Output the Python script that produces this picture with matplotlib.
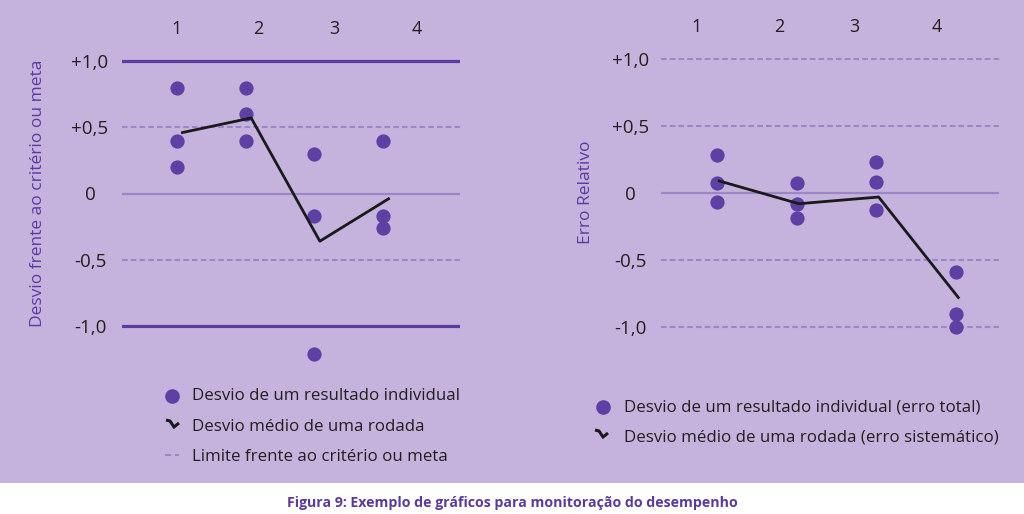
import matplotlib
matplotlib.use("Agg")
import matplotlib.pyplot as plt
from matplotlib.lines import Line2D
from matplotlib.patches import Rectangle

plt.rcParams['font.family'] = ['Open Sans', 'DejaVu Sans']

# ---------------- data ----------------
rounds = ["1", "2", "3", "4"]
ytick_vals = [1.0, 0.5, 0.0, -0.5, -1.0]
ytick_labels = ["+1,0", "+0,5", "0", "-0,5", "-1,0"]

# left chart: deviation vs criterion
left_points = [
    [0.8, 0.4, 0.2],
    [0.8, 0.6, 0.4],
    [0.3, -0.17, -1.21],
    [0.4, -0.17, -0.26],
]
left_means = [0.46, 0.57, -0.36, -0.04]
left_limits_solid = [1.0, -1.0]
left_limits_dashed = [0.5, -0.5]

# right chart: relative error
right_points = [
    [0.28, 0.075, -0.07],
    [0.075, -0.08, -0.19],
    [0.23, 0.08, -0.13],
    [-0.59, -0.90, -1.0],
]
right_means = [0.09, -0.08, -0.03, -0.78]
right_limits_dashed = [1.0, 0.5, -0.5, -1.0]

left_ylabel = "Desvio frente ao critério ou meta"
right_ylabel = "Erro Relativo"
left_legend = ["Desvio de um resultado individual",
               "Desvio médio de uma rodada",
               "Limite frente ao critério ou meta"]
right_legend = ["Desvio de um resultado individual (erro total)",
                "Desvio médio de uma rodada (erro sistemático)"]
caption = "Figura 9: Exemplo de gráficos para monitoração do desempenho"

# ---------------- style ----------------
BG = "#C5B3DD"
DOT = "#5E3FA3"
DARK = "#5A3BA2"
LIGHT = "#9C86C6"
TXT = "#231f20"
DASH = (0, (2.7, 1.5))

W, H = 1024, 514
fig = plt.figure(figsize=(W / 100, H / 100), dpi=100)
fig.patch.set_facecolor("white")
fig.add_artist(Rectangle((0, (H - 483) / H), 1, 483 / H, transform=fig.transFigure,
                         facecolor=BG, edgecolor="none", zorder=-10))


def px_axes(x0, x1, ytop, ybot):
    return fig.add_axes([x0 / W, (H - ybot) / H, (x1 - x0) / W, (ybot - ytop) / H])


def setup(ax, xlim, label_pos, tick_pad):
    ax.set_facecolor("none")
    for s in ax.spines.values():
        s.set_visible(False)
    ax.set_xlim(*xlim)
    ax.set_ylim(-1.3, 1.1)
    ax.set_yticks(ytick_vals)
    ax.set_yticklabels(ytick_labels, fontsize=13.5, color=TXT)
    for t in ax.get_yticklabels():
        t.set_horizontalalignment("center")
    ax.tick_params(axis="y", length=0, pad=tick_pad)
    ax.xaxis.tick_top()
    ax.set_xticks(label_pos)
    ax.set_xticklabels(rounds, fontsize=13, color=TXT)
    ax.tick_params(axis="x", length=0, pad=7)


xs = [1, 2, 3, 4]

# left axes: y=+1 at px 61, -1 at 326 -> ylim(-1.3,1.1)
yL0 = 61 - 0.1 * 132.5
yL1 = 326 + 0.3 * 132.5
axL = px_axes(122, 460, yL0, yL1)
setup(axL, (0.2, 5.12), [0.99, 2.18, 3.29, 4.49], 23)
axL.axhline(0, color=LIGHT, lw=1.6, zorder=1)
for v in left_limits_solid:
    axL.axhline(v, color=DARK, lw=2.3, zorder=1)
for v in left_limits_dashed:
    axL.axhline(v, color=LIGHT, lw=1.5, ls=DASH, zorder=1)
for x, pts in zip(xs, left_points):
    axL.scatter([x] * len(pts), pts, s=105, color=DOT, zorder=3, linewidths=0)
axL.plot([x + 0.08 for x in xs], left_means, color="#1a1a1a", lw=2.0, zorder=4)
axL.set_ylabel(left_ylabel, color=DARK, fontsize=12.5)
axL.yaxis.set_label_coords(-(122 - 46) / 338, (yL1 - 193) / (yL1 - yL0))

# right axes: y=+1 at px 59, -1 at 327
yR0 = 59 - 0.1 * 134
yR1 = 327 + 0.3 * 134
axR = px_axes(661, 999, yR0, yR1)
setup(axR, (0.3, 4.54), [0.75, 1.78, 2.73, 3.76], 22)
axR.axhline(0, color=LIGHT, lw=1.6, zorder=1)
for v in right_limits_dashed:
    axR.axhline(v, color=LIGHT, lw=1.5, ls=DASH, zorder=1)
for x, pts in zip(xs, right_points):
    axR.scatter([x] * len(pts), pts, s=105, color=DOT, zorder=3, linewidths=0)
axR.plot([x + 0.03 for x in xs], right_means, color="#1a1a1a", lw=2.0, zorder=4)
axR.set_ylabel(right_ylabel, color=DARK, fontsize=12.5)
axR.yaxis.set_label_coords(-(661 - 594) / 338, (yR1 - 192) / (yR1 - yR0))


# ---------------- legends (manual) ----------------
def fx(x):
    return x / W


def fy(y):
    return 1 - y / H


def dot_sym(x, y):
    fig.add_artist(Line2D([fx(x)], [fy(y)], marker="o", markersize=9.5, color=DOT,
                          transform=fig.transFigure, linestyle="none"))


def squiggle(x, y):
    fig.add_artist(Line2D([fx(x), fx(x + 4), fx(x + 8), fx(x + 13)],
                          [fy(y), fy(y + 1), fy(y + 7), fy(y + 3)],
                          color="#1a1a1a", lw=2.2, transform=fig.transFigure,
                          solid_capstyle="butt", solid_joinstyle="miter"))


def dashes(x, y):
    fig.add_artist(Line2D([fx(x), fx(x + 14)], [fy(y), fy(y)], color=LIGHT, lw=1.5,
                          ls=(0, (3, 1.8)), transform=fig.transFigure))


lrows = [396, 427, 457]
dot_sym(172, lrows[0])
squiggle(166, 420)
dashes(165, 455)
for t, y in zip(left_legend, lrows):
    fig.text(fx(192), fy(y), t, fontsize=12.2, color=TXT, va="center", ha="left")

rrows = [407, 438]
dot_sym(603, rrows[0])
squiggle(595, 430)
for t, y in zip(right_legend, rrows):
    fig.text(fx(624), fy(y), t, fontsize=12.2, color=TXT, va="center", ha="left")

fig.text(0.5, fy(503), caption, fontsize=10.2, fontweight="bold", color="#5B3A9C",
         ha="center", va="center")

fig.savefig("out.png", dpi=100, facecolor=fig.get_facecolor())
